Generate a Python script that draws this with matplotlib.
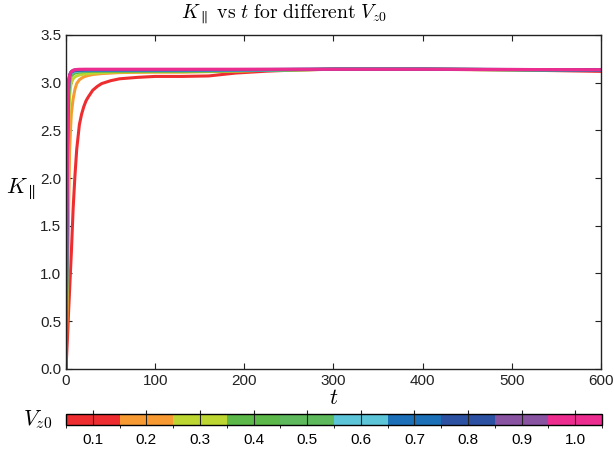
import numpy as np
import matplotlib
matplotlib.use("Agg")
import matplotlib.pyplot as plt
from matplotlib.colors import ListedColormap, BoundaryNorm
from matplotlib.colorbar import ColorbarBase

plt.rcParams["font.family"] = ["Liberation Sans", "DejaVu Sans"]
plt.rcParams["mathtext.fontset"] = "cm"

# initial parallel velocity of each run
vz0 = [0.1, 0.2, 0.3, 0.4, 0.5, 0.6, 0.7, 0.8, 0.9, 1.0]
colors = ["#ED2D30", "#F79A32", "#BDD631", "#5CB848", "#5DB95C",
          "#5CC6D8", "#1C70B7", "#2C51A3", "#8953A2", "#EC2D8F"]

t = [0, 1, 2, 3, 4, 5, 6, 8, 10, 12, 15, 17.5, 20, 22.5, 25, 30, 35, 40, 50, 60, 80, 100,
     130, 160, 190, 225, 260, 300, 400, 500, 600]

# K_par(t), one row per vz0
k_par = [
    [0, 0.2, 0.4, 0.62, 0.82, 1.02, 1.22, 1.68, 2.02, 2.3, 2.56, 2.67, 2.75, 2.81, 2.85, 2.92, 2.96, 2.99, 3.02,
     3.04, 3.055, 3.065, 3.065, 3.07, 3.10, 3.12, 3.133, 3.14, 3.14, 3.133, 3.118],
    [0, 0.5, 1.0, 1.7, 2.28, 2.5, 2.68, 2.83, 2.93, 2.99, 3.03, 3.047, 3.06, 3.068, 3.075, 3.085, 3.09, 3.095, 3.10,
     3.105, 3.108, 3.11, 3.11, 3.115, 3.12, 3.13, 3.135, 3.14, 3.14, 3.135, 3.13],
    [0, 0.9, 1.9, 2.6, 2.85, 2.95, 3.0, 3.04, 3.06, 3.07, 3.08, 3.085, 3.09, 3.093, 3.095, 3.10, 3.102, 3.105, 3.11,
     3.112, 3.114, 3.115, 3.115, 3.118, 3.122, 3.13, 3.135, 3.14, 3.14, 3.136, 3.13],
    [0, 1.1, 2.3, 2.85, 3.0, 3.05, 3.07, 3.09, 3.10, 3.105, 3.11, 3.113, 3.115, 3.116, 3.117, 3.12, 3.12, 3.12, 3.12,
     3.12, 3.12, 3.12, 3.12, 3.122, 3.125, 3.13, 3.135, 3.14, 3.14, 3.136, 3.13],
    [0, 1.2, 2.45, 2.93, 3.04, 3.08, 3.09, 3.10, 3.11, 3.113, 3.115, 3.118, 3.12, 3.121, 3.122, 3.123, 3.124, 3.124, 3.125,
     3.125, 3.125, 3.125, 3.125, 3.126, 3.128, 3.132, 3.136, 3.14, 3.14, 3.136, 3.13],
    [0, 1.3, 2.55, 2.97, 3.06, 3.09, 3.10, 3.112, 3.118, 3.12, 3.123, 3.124, 3.125, 3.126, 3.127, 3.128, 3.128, 3.128, 3.128,
     3.128, 3.128, 3.128, 3.128, 3.129, 3.13, 3.133, 3.137, 3.14, 3.14, 3.136, 3.132],
    [0, 1.4, 2.6, 3.0, 3.07, 3.10, 3.11, 3.12, 3.125, 3.128, 3.13, 3.13, 3.131, 3.131, 3.132, 3.132, 3.132, 3.132, 3.132,
     3.132, 3.132, 3.132, 3.132, 3.133, 3.134, 3.136, 3.138, 3.14, 3.14, 3.137, 3.132],
    [0, 1.5, 2.65, 3.0, 3.07, 3.10, 3.115, 3.125, 3.13, 3.132, 3.134, 3.134, 3.135, 3.135, 3.135, 3.135, 3.135, 3.135, 3.135,
     3.135, 3.135, 3.135, 3.135, 3.135, 3.136, 3.137, 3.139, 3.14, 3.14, 3.137, 3.133],
    [0, 1.55, 2.7, 3.0, 3.07, 3.10, 3.115, 3.128, 3.133, 3.135, 3.137, 3.137, 3.138, 3.138, 3.138, 3.138, 3.138, 3.138, 3.138,
     3.138, 3.138, 3.138, 3.138, 3.138, 3.138, 3.139, 3.14, 3.14, 3.14, 3.138, 3.134],
    [0, 1.6, 2.7, 3.0, 3.07, 3.10, 3.115, 3.13, 3.135, 3.138, 3.14, 3.14, 3.14, 3.14, 3.14, 3.14, 3.14, 3.14, 3.14,
     3.14, 3.14, 3.14, 3.14, 3.14, 3.14, 3.14, 3.14, 3.14, 3.14, 3.138, 3.135],
]

fig = plt.figure(figsize=(6.14, 4.51), dpi=100)
ax = fig.add_axes([0.1075, 0.182, 0.8713, 0.7406])

for v, c, k in zip(vz0, colors, k_par):
    ax.plot(t, k, color=c, lw=2.2, solid_capstyle="round")

ax.set_xlim(0, 600)
ax.set_ylim(0, 3.5)
ax.set_xticks([0, 100, 200, 300, 400, 500, 600])
ax.set_yticks(np.arange(0, 3.51, 0.5))
ax.set_yticklabels(["%.1f" % y for y in np.arange(0, 3.51, 0.5)])
ax.tick_params(direction="in", top=True, right=True, length=4, width=0.8,
               labelsize=11, colors="#222222")
for sp in ax.spines.values():
    sp.set_linewidth(1.0)
    sp.set_color("#222222")

ax.set_title(r"$K_{\parallel}\ \mathrm{vs}\ t\ \mathrm{for\ different}\ V_{z0}$",
             fontsize=14.2, x=0.407, pad=12)
ax.set_xlabel(r"$t$", fontsize=16, labelpad=0)
ax.set_ylabel(r"$K_{\parallel}$", fontsize=16, rotation=0, labelpad=14)

# discrete colorbar for vz0
cax = fig.add_axes([0.1075, 0.0576, 0.873, 0.0244])
edges = np.arange(0.05, 1.06, 0.1)
cmap = ListedColormap(colors)
norm = BoundaryNorm(edges, cmap.N)
cb = ColorbarBase(cax, cmap=cmap, norm=norm, orientation="horizontal",
                  boundaries=edges, ticks=vz0)
cb.set_ticklabels(["%.1f" % v for v in vz0])
cb.outline.set_linewidth(1.0)
cax.tick_params(direction="in", length=11, width=0.8, color="#222222",
                labelsize=11, pad=6)
cax.text(-0.025, 0.5, r"$V_{z0}$", fontsize=16, transform=cax.transAxes,
         ha="right", va="center")

fig.savefig("out.png", dpi=100)
